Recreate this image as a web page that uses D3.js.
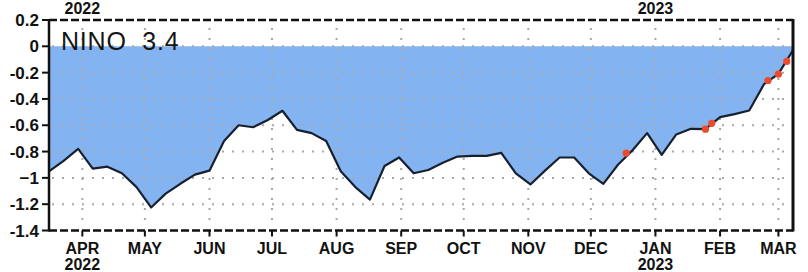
<!doctype html>
<html>
<head>
    <script src="https://d3js.org/d3.v7.min.js"></script>
    <style>
        body { margin: 0; background: #fff; }
        text { font-family: "Liberation Sans", Arial, sans-serif; }
    </style>
</head>
<body>
    <svg id="chart" width="808" height="272"></svg>
    <script>
        // weekly SST anomaly, Nino 3.4 region
        const weeks = [
          "2022-03-16","2022-03-23","2022-03-30","2022-04-06","2022-04-13","2022-04-20","2022-04-27",
          "2022-05-04","2022-05-11","2022-05-18","2022-05-25","2022-06-01","2022-06-08","2022-06-15",
          "2022-06-22","2022-06-29","2022-07-06","2022-07-13","2022-07-20","2022-07-27","2022-08-03",
          "2022-08-10","2022-08-17","2022-08-24","2022-08-31","2022-09-07","2022-09-14","2022-09-21",
          "2022-09-28","2022-10-05","2022-10-12","2022-10-19","2022-10-26","2022-11-02","2022-11-09",
          "2022-11-16","2022-11-23","2022-11-30","2022-12-07","2022-12-14","2022-12-21","2022-12-28",
          "2023-01-04","2023-01-11","2023-01-18","2023-01-25","2023-02-01","2023-02-08","2023-02-15",
          "2023-02-22","2023-03-01","2023-03-08"
        ];
        const anomaly = [
          -0.95, -0.87, -0.78, -0.93, -0.915, -0.965, -1.07,
          -1.225, -1.12, -1.045, -0.975, -0.945, -0.72, -0.60,
          -0.615, -0.56, -0.49, -0.635, -0.66, -0.72, -0.95,
          -1.07, -1.165, -0.91, -0.845, -0.965, -0.94, -0.885,
          -0.838, -0.833, -0.833, -0.81, -0.965, -1.05, -0.945,
          -0.845, -0.845, -0.965, -1.045, -0.90, -0.79, -0.66,
          -0.825, -0.67, -0.627, -0.63, -0.538, -0.515, -0.488,
          -0.29, -0.21, -0.03
        ];
        // red markers on the recent part of the curve
        const markDates = ["2022-12-18", "2023-01-25", "2023-01-28", "2023-02-24", "2023-03-01", "2023-03-05"];
        const markValues = [-0.812, -0.63, -0.585, -0.26, -0.212, -0.115];

        const yTicks = [0.2, 0, -0.2, -0.4, -0.6, -0.8, -1, -1.2, -1.4];
        const yLabels = ["0.2", "0", "-0.2", "-0.4", "-0.6", "-0.8", "\u22121", "-1.2", "-1.4"];
        const monthNames = ["JAN","FEB","MAR","APR","MAY","JUN","JUL","AUG","SEP","OCT","NOV","DEC"];

        const parse = d3.timeParse("%Y-%m-%d");
        const data = weeks.map((w, i) => ({ date: parse(w), value: anomaly[i] }));
        const marks = markDates.map((d, i) => ({ date: parse(d), value: markValues[i] }));

        const plotLeft = 49, plotRight = 793, plotTop = 20, plotBottom = 230.5;

        const x = d3.scaleTime()
          .domain([parse("2022-03-16"), parse("2023-03-08")])
          .range([plotLeft, plotRight]);
        const y = d3.scaleLinear()
          .domain([-1.4, 0.2])
          .range([plotBottom, plotTop]);

        const svg = d3.select("#chart");

        svg.append("clipPath").attr("id", "plot")
          .append("rect").attr("x", plotLeft).attr("y", plotTop)
          .attr("width", plotRight - plotLeft).attr("height", plotBottom - plotTop);

        // blue area between the curve and zero
        const area = d3.area()
          .x(d => x(d.date))
          .y0(y(0))
          .y1(d => y(d.value));
        svg.append("path")
          .datum(data)
          .attr("clip-path", "url(#plot)")
          .attr("fill", "#83b3f0")
          .attr("d", area);

        // dotted grid
        const months = d3.timeMonth.range(parse("2022-04-01"), parse("2023-03-02"));
        svg.append("g")
          .selectAll("line")
          .data([0, -0.2, -0.4, -0.6, -0.8, -1, -1.2])
          .join("line")
          .attr("x1", plotLeft + 3).attr("x2", plotRight - 2)
          .attr("y1", d => y(d)).attr("y2", d => y(d))
          .attr("stroke", "#a9a9a9")
          .attr("stroke-width", 2)
          .attr("stroke-dasharray", "2,8");
        svg.append("g")
          .selectAll("line")
          .data(months)
          .join("line")
          .attr("x1", d => x(d)).attr("x2", d => x(d))
          .attr("y1", plotTop + 8).attr("y2", plotBottom - 3)
          .attr("stroke", "#a9a9a9")
          .attr("stroke-width", 2)
          .attr("stroke-dasharray", "2,8");

        // anomaly curve
        const line = d3.line()
          .x(d => x(d.date))
          .y(d => y(d.value));
        svg.append("path")
          .datum(data)
          .attr("fill", "none")
          .attr("stroke", "#17202e")
          .attr("stroke-width", 2.2)
          .attr("stroke-linejoin", "round")
          .attr("d", line);

        svg.append("g")
          .selectAll("circle")
          .data(marks)
          .join("circle")
          .attr("cx", d => x(d.date))
          .attr("cy", d => y(d.value))
          .attr("r", 3.6)
          .attr("fill", "#ec4a2c");

        // frame: dashed top and bottom, solid sides
        svg.append("line")
          .attr("x1", plotLeft).attr("x2", plotRight).attr("y1", plotTop).attr("y2", plotTop)
          .attr("stroke", "#111").attr("stroke-width", 2.5).attr("stroke-dasharray", "8,3");
        svg.append("line")
          .attr("x1", plotLeft).attr("x2", plotRight).attr("y1", plotBottom).attr("y2", plotBottom)
          .attr("stroke", "#111").attr("stroke-width", 2.5).attr("stroke-dasharray", "8,3");
        svg.append("line")
          .attr("x1", plotLeft).attr("x2", plotLeft).attr("y1", plotTop - 1).attr("y2", plotBottom + 1)
          .attr("stroke", "#111").attr("stroke-width", 2.5);
        svg.append("line")
          .attr("x1", plotRight).attr("x2", plotRight).attr("y1", plotTop - 1).attr("y2", plotBottom + 1)
          .attr("stroke", "#111").attr("stroke-width", 3);

        // y axis
        const yAxis = svg.append("g");
        yAxis.selectAll("line")
          .data(yTicks)
          .join("line")
          .attr("x1", plotLeft - 7).attr("x2", plotLeft)
          .attr("y1", d => y(d)).attr("y2", d => y(d))
          .attr("stroke", "#111").attr("stroke-width", 2);
        yAxis.selectAll("text")
          .data(yTicks)
          .join("text")
          .attr("x", 39)
          .attr("y", d => y(d) + 6)
          .attr("text-anchor", "end")
          .attr("font-size", 17)
          .attr("font-weight", "bold")
          .attr("fill", "#111")
          .text((d, i) => yLabels[i]);

        // x axis: months
        const xAxis = svg.append("g");
        xAxis.selectAll("line")
          .data(months)
          .join("line")
          .attr("x1", d => x(d)).attr("x2", d => x(d))
          .attr("y1", plotBottom).attr("y2", plotBottom + 6)
          .attr("stroke", "#111").attr("stroke-width", 2);
        xAxis.selectAll("text")
          .data(months)
          .join("text")
          .attr("x", d => x(d))
          .attr("y", 254)
          .attr("text-anchor", "middle")
          .attr("font-size", 16)
          .attr("font-weight", "bold")
          .attr("fill", "#111")
          .text(d => monthNames[d.getMonth()]);

        // year labels, above and below
        const years = [parse("2022-04-01"), parse("2023-01-01")];
        years.forEach(d => {
          [14, 270].forEach(yy => {
            svg.append("text")
              .attr("x", x(d))
              .attr("y", yy)
              .attr("text-anchor", "middle")
              .attr("font-size", 16)
              .attr("font-weight", "bold")
              .attr("fill", "#111")
              .text(d3.timeFormat("%Y")(d));
          });
        });

        // panel title
        svg.append("text")
          .attr("x", 61)
          .attr("y", 50)
          .attr("font-size", 25)
          .attr("letter-spacing", 0.8)
          .attr("fill", "#151515")
          .attr("style", "white-space: pre")
          .text("NINO  3.4");

        // top of the next panel's label, cut by the bottom edge
        svg.append("text")
          .attr("x", 39)
          .attr("y", 284)
          .attr("text-anchor", "end")
          .attr("font-size", 17)
          .attr("font-weight", "bold")
          .attr("fill", "#111")
          .text("0.2");
    </script>
</body>
</html>
